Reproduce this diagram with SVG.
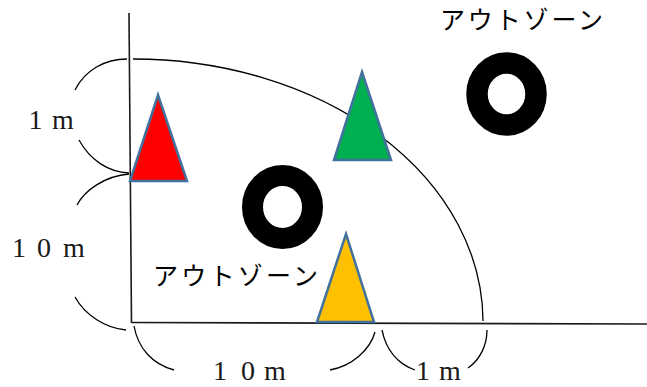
<svg xmlns="http://www.w3.org/2000/svg" width="647" height="387" viewBox="0 0 647 387">
<style>
.ln{fill:none;stroke:#000;stroke-width:1.3}
.ax{fill:none;stroke:#1a1a1a;stroke-width:1.6}
.tri{stroke:#41719C;stroke-width:2.5;stroke-linejoin:miter}
.ring{fill:none;stroke:#000}
.num{font-family:"Liberation Serif","DejaVu Serif",serif;font-size:28px;fill:#1a1a1a;text-anchor:middle}
.jp{font-family:"Noto Sans CJK JP","Noto Sans",sans-serif;font-size:25px;fill:#000}
</style>
<rect width="647" height="387" fill="#fff"/>
<g id="connectors">
<path class="ax" d="M129,13 L131.5,323"/>
<path class="ax" d="M131.5,322.5 L647,324"/>
<path class="ln" d="M133,59 A350,263 0 0 1 483,321"/>
<path class="ln" d="M75,90 C85,70 105,59 127,59"/>
<path class="ln" d="M79,140 C90,160 108,172 129,173"/>
<path class="ln" d="M129,174 C105,176 85,190 77,205"/>
<path class="ln" d="M75,297 C85,315 105,328 126,330"/>
<path class="ln" d="M134,326 C138,348 152,364 174,370"/>
<path class="ln" d="M330,370 C352,366 370,350 375,332"/>
<path class="ln" d="M382,330 C386,350 398,364 415,370"/>
<path class="ln" d="M487,330 C487,345 480,360 468,368"/>
</g>
<g id="tri-red"><polygon class="tri" fill="#FF0000" points="158,95 187,181 130,181"/></g>
<g id="tri-green"><polygon class="tri" fill="#00B050" points="362,72 391,160 334,160"/></g>
<g id="tri-yellow"><polygon class="tri" fill="#FFC000" points="346,234 374,322 317,322"/></g>
<g id="ring-right"><ellipse class="ring" cx="506.5" cy="94" rx="29.5" ry="31" stroke-width="21.5"/></g>
<g id="ring-left"><ellipse class="ring" cx="282.5" cy="207" rx="30" ry="31.5" stroke-width="21"/></g>
<g id="label-out-right"><text class="jp" x="440" y="29" textLength="163" lengthAdjust="spacing">アウトゾーン</text></g>
<g id="label-out-left"><text class="jp" x="153" y="285" textLength="165" lengthAdjust="spacing">アウトゾーン</text></g>
<g id="label-1m-left"><text class="num" y="129"><tspan x="35.5">1</tspan><tspan x="63">m</tspan></text></g>
<g id="label-10m-left"><text class="num" y="257"><tspan x="19">1</tspan><tspan x="44">0</tspan><tspan x="74">m</tspan></text></g>
<g id="label-10m-bottom"><text class="num" y="380"><tspan x="220">1</tspan><tspan x="248">0</tspan><tspan x="275">m</tspan></text></g>
<g id="label-1m-bottom"><text class="num" y="380"><tspan x="423">1</tspan><tspan x="450">m</tspan></text></g>
</svg>
